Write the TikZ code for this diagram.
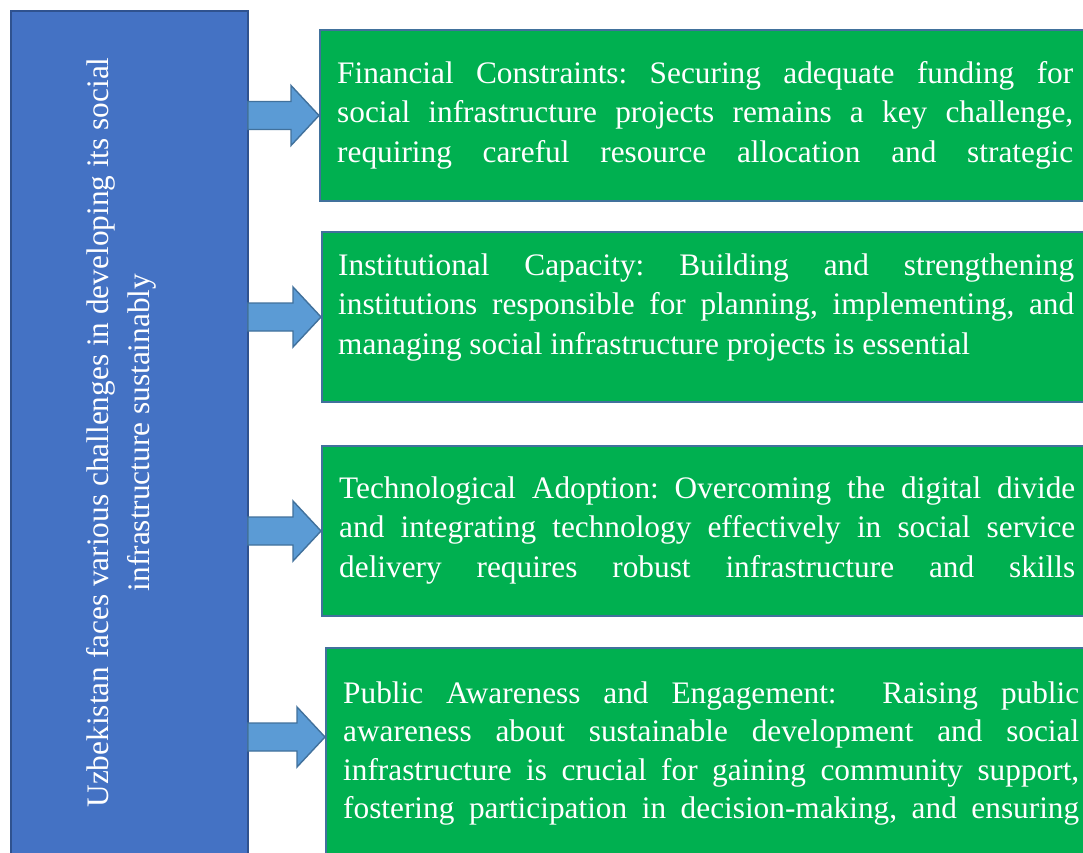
\documentclass[tikz,border=0pt]{standalone}
\usepackage{fontspec}
\setmainfont{Liberation Serif}
\usetikzlibrary{calc}
\definecolor{bluefill}{HTML}{4472C4}
\definecolor{blueline}{HTML}{2F528F}
\definecolor{greenfill}{HTML}{00B050}
\definecolor{boxline}{HTML}{41719C}
\definecolor{arrowfill}{HTML}{5B9BD5}
\frenchspacing
\newcommand\jl[1]{\hbox{\makebox[736pt][s]{#1}}}
\newcommand\nl[1]{\hbox{#1}}
\tikzset{
  bluebox/.style={draw=blueline, fill=bluefill, line width=1.8pt, rectangle, inner sep=0pt, anchor=north west},
  greenbox/.style={draw=boxline, fill=greenfill, line width=2pt, rectangle, inner sep=0pt, anchor=north west, minimum width=800pt},
  txt/.style={text=white, inner sep=0pt, font=\fontsize{31.3}{39.5}\selectfont},
  blockarrow/.style={draw=boxline, fill=arrowfill, line width=1.4pt, line join=miter},
}
\newcommand\blockarr[2]{%
  \draw[blockarrow] ($(#1.east |- #2)+(-1,-14)$) -- ($(#2)+(-28,-14)$) -- ($(#2)+(-28,-30)$) -- (#2)
    -- ($(#2)+(-28,30)$) -- ($(#2)+(-28,14)$) -- ($(#1.east |- #2)+(-1,14)$) -- cycle;}
\begin{document}
\begin{tikzpicture}[x=1pt,y=-1pt]
\useasboundingbox (0,0) rectangle (1083,852);
\clip (0,0) rectangle (1083,852);
\fill[white] (0,0) rectangle (1083,852);

% left blue box
\node[bluebox, minimum width=237pt, minimum height=880pt] (blue) at (10,10) {};
\node[txt, rotate=90, anchor=base, font=\fontsize{31.3}{41}\selectfont] (title) at (108,432.5)
  {\begin{tabular}[t]{@{}c@{}}Uzbekistan faces various challenges in developing its social\\ infrastructure sustainably\end{tabular}};

% green boxes
\node[greenbox, minimum height=171pt] (g1) at (319,29) {};
\node[greenbox, minimum height=170pt] (g2) at (321,231) {};
\node[greenbox, minimum height=170pt] (g3) at (321,445) {};
\node[greenbox, minimum height=300pt] (g4) at (325,647) {};

\node[txt, anchor=base west] (t1) at (337,83) {\vtop{%
  \jl{Financial Constraints: Securing adequate funding for}
  \jl{social infrastructure projects remains a key challenge,}
  \jl{requiring careful resource allocation and strategic}}};
\node[txt, anchor=base west] (t2) at (338,275) {\vtop{%
  \jl{Institutional Capacity: Building and strengthening}
  \jl{institutions responsible for planning, implementing, and}
  \nl{managing social infrastructure projects is essential}}};
\node[txt, anchor=base west] (t3) at (339,498) {\vtop{%
  \jl{Technological Adoption: Overcoming the digital divide}
  \jl{and integrating technology effectively in social service}
  \jl{delivery requires robust infrastructure and skills}}};
\node[txt, anchor=base west] (t4) at (343,703) {\vtop{\baselineskip=38.5pt
  \jl{Public Awareness and Engagement:\ \ Raising public}
  \jl{awareness about sustainable development and social}
  \jl{infrastructure is crucial for gaining community support,}
  \jl{fostering participation in decision-making, and ensuring}}};

% arrows
\coordinate (p1) at (g1.west);
\coordinate (p2) at (g2.west);
\coordinate (p3) at (g3.west);
\coordinate (p4) at ($(g4.north west)+(0,90)$);
\blockarr{blue}{p1}
\blockarr{blue}{p2}
\blockarr{blue}{p3}
\blockarr{blue}{p4}
\end{tikzpicture}
\end{document}
